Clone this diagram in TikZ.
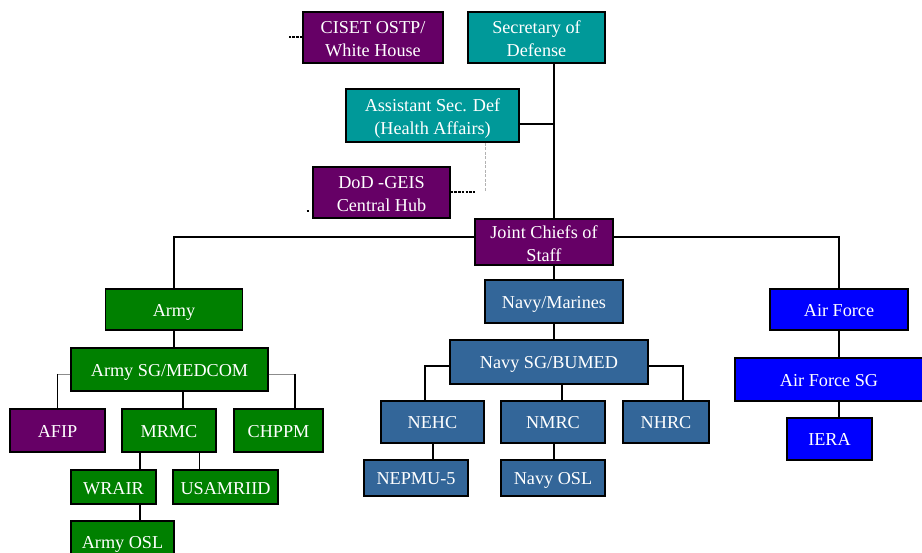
\documentclass[tikz,border=0pt]{standalone}
\usepackage{fontspec}
\setmainfont{Liberation Serif}
\definecolor{cpurple}{HTML}{660066}
\definecolor{cteal}{HTML}{009999}
\definecolor{cgreen}{HTML}{008000}
\definecolor{cnavy}{HTML}{336699}
\definecolor{cblue}{HTML}{0000FF}
\tikzset{
  box/.style={draw=black, line width=1.4pt, text=white, align=center, inner sep=0pt,
    font=\fontsize{18.2}{23.4}\selectfont, text height=16pt, text depth=2pt},
  two/.style={text height=41pt, text depth=2pt},
  pbox/.style={box, fill=cpurple},
  tbox/.style={box, fill=cteal},
  gbox/.style={box, fill=cgreen},
  nbox/.style={box, fill=cnavy},
  bbox/.style={box, fill=cblue},
  conn/.style={draw=black, line width=1.6pt},
  thinconn/.style={draw=black!45, line width=0.8pt},
  dotconn/.style={draw=black, line width=1.5pt, dash pattern=on 2.5pt off 1.2pt},
  greydash/.style={draw=black!30, line width=0.6pt, dash pattern=on 3pt off 1.5pt},
}
\newcommand{\bx}[6]{\node[#1, minimum width=#4pt, minimum height=#5pt] (#2) at (#3) {#6};}
\begin{document}
\begin{tikzpicture}[x=1pt,y=-1pt]
\useasboundingbox[fill=white] (0,0) rectangle (922,553);
% top
\bx{pbox,two}{ciset}{373,37.5}{140}{51}{CISET OSTP/\\White House}
\bx{tbox,two}{secdef}{536.5,37.5}{137}{51}{Secretary of\\Defense}
\bx{tbox,two}{asd}{432.5,115.5}{173}{53}{Assistant Sec. Def\\(Health Affairs)}
\bx{pbox,two}{geis}{381.5,192.5}{137}{51}{DoD -GEIS\\Central Hub}
\bx{pbox,two}{jcs}{544,242}{138}{46}{Joint Chiefs of\\Staff}
% army
\bx{gbox}{army}{174,309.5}{137}{41}{Army}
\bx{gbox}{medcom}{169.5,369.5}{197}{43}{Army SG/MEDCOM}
\bx{pbox}{afip}{57.5,430.5}{95}{43}{AFIP}
\bx{gbox}{mrmc}{169,430.5}{94}{43}{MRMC}
\bx{gbox}{chppm}{278.5,430.5}{89}{43}{CHPPM}
\bx{gbox}{wrair}{113.5,487}{85}{34}{WRAIR}
\bx{gbox}{usamriid}{225.5,487}{105}{34}{USAMRIID}
\bx{gbox}{armyosl}{122.5,541}{103}{40}{Army OSL}
% navy
\bx{nbox}{navy}{554,301.5}{138}{43}{Navy/Marines}
\bx{nbox}{bumed}{549,362}{198}{44}{Navy SG/BUMED}
\bx{nbox}{nehc}{432.5,422}{103}{42}{NEHC}
\bx{nbox}{nmrc}{553,422}{104}{42}{NMRC}
\bx{nbox}{nhrc}{666,422}{86}{42}{NHRC}
\bx{nbox}{nepmu}{416,478}{104}{36}{NEPMU-5}
\bx{nbox}{navyosl}{553,478}{104}{36}{Navy OSL}
% air force
\bx{bbox}{af}{839,309.5}{138}{41}{Air Force}
\bx{bbox}{afsg}{829,379.5}{188}{43}{Air Force SG}
\bx{bbox}{iera}{829.5,439}{85}{42}{IERA}
% helper coordinates
\coordinate (trunk) at (554,0);
\coordinate (bar) at (0,237);
\coordinate (cisetend) at (288,37);
\coordinate (geisend) at (475,192);
\coordinate (gdtop) at (485,143);
\coordinate (gdbot) at (485,192);
\coordinate (dotA) at (306.5,211);
\coordinate (dotB) at (308.5,211);
% connectors top
\draw[conn] (secdef.south -| trunk) -- (jcs.north -| trunk);
\draw[conn] (asd.east |- {0,124}) -- (trunk |- {0,124});
\draw[dotconn] (ciset.west |- cisetend) -- (cisetend);
\draw[dotconn] (geis.east |- geisend) -- (geisend);
\draw[greydash] (gdtop) -- (gdbot);
\draw[line width=1.5pt] (dotA) -- (dotB);
\draw[conn] (army.north) |- (jcs.west |- bar);
\draw[conn] (af.north) |- (jcs.east |- bar);
\draw[conn] (jcs.south -| trunk) -- (navy.north -| trunk);
% army connectors
\draw[conn] (army.south) -- (medcom.north -| army.south);
\draw[thinconn] (medcom.west |- {0,374}) -- (afip.north |- {0,374});
\draw[conn] (afip.north |- {0,374}) -- (afip.north);
\draw[thinconn] (medcom.east |- {0,374}) -- ({295,374});
\draw[conn] ({295,374}) -- (chppm.north -| {295,0});
\draw[conn, line width=1.2pt] (medcom.south -| {183,0}) -- (mrmc.north -| {183,0});
\draw[conn] (mrmc.south -| {140,0}) -- (wrair.north -| {140,0});
\draw[conn, line width=1.2pt] (mrmc.south -| {199.5,0}) -- (usamriid.north -| {199.5,0});
\draw[conn] (wrair.south -| {140,0}) -- (armyosl.north -| {140,0});
% navy connectors
\draw[conn] (navy.south -| trunk) -- (bumed.north -| trunk);
\draw[conn] (bumed.west |- {0,366}) -| (nehc.north -| {425,0});
\draw[conn] (bumed.east |- {0,366}) -| (nhrc.north -| {683,0});
\draw[conn] (bumed.south -| {562,0}) -- (nmrc.north -| {562,0});
\draw[conn] (nehc.south -| {433,0}) -- (nepmu.north -| {433,0});
\draw[conn] (nmrc.south -| {554,0}) -- (navyosl.north -| {554,0});
% air force connectors
\draw[conn] (af.south) -- (afsg.north -| af.south);
\draw[conn] (afsg.south -| af.south) -- (iera.north -| af.south);
\end{tikzpicture}
\end{document}
